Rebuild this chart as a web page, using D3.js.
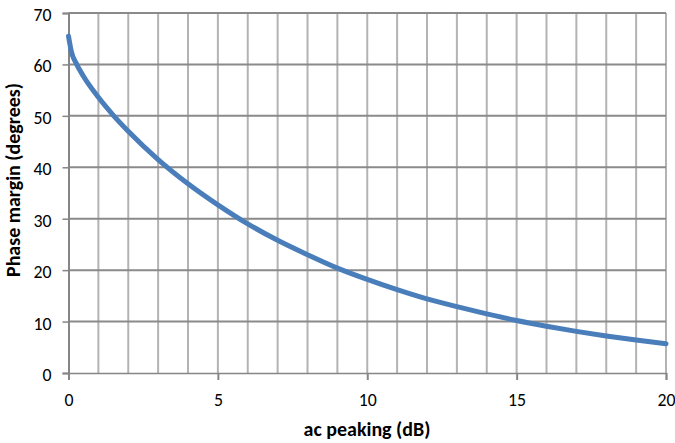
<!DOCTYPE html>
<html><head><meta charset="utf-8">
<script src="https://cdn.jsdelivr.net/npm/d3@7"></script>
<style>
html,body{margin:0;padding:0;background:#fff;}
svg{display:block;font-family:Carlito,Lato,"Liberation Sans",sans-serif;}
</style></head>
<body>
<svg id="chart" width="675" height="443"></svg>
<script>
// ac peaking (dB)
const peakingDb = [0, 0.1, 0.25, 0.5, 1, 1.5, 2, 3, 4, 5, 6, 7, 8, 9, 10, 11, 12, 13, 14, 15, 16, 17, 18, 19, 20];
// phase margin (degrees)
const phaseMargin = [65.5, 62.4, 60.3, 57.7, 53.6, 50.1, 47.0, 41.5, 36.8, 32.7, 29.0, 25.8, 23.0, 20.4, 18.2, 16.2, 14.4, 12.9, 11.5, 10.2, 9.1, 8.1, 7.2, 6.4, 5.7];
const xTicks = [0, 5, 10, 15, 20];
const yTicks = [0, 10, 20, 30, 40, 50, 60, 70];
const xGrid = d3.range(1, 21);
const xTitle = "ac peaking (dB)";
const yTitle = "Phase margin (degrees)";

const svg = d3.select("#chart");
const pL = 68.5, pR = 666, pT = 13, pB = 373;
const x = d3.scaleLinear().domain([0, 20]).range([pL, pR]);
const y = d3.scaleLinear().domain([0, 70]).range([pB, pT]);

// fit a font size so a sample string reaches a target width
function fitSize(str, weight, target) {
  const t = svg.append("text").attr("font-size", 20).attr("font-weight", weight).text(str);
  const w = t.node().getComputedTextLength();
  t.remove();
  return 20 * target / w;
}
const tickSize = 17.8;
const xTitleSize = fitSize(xTitle, "bold", 127);
const yTitleSize = xTitleSize;

// vertical gridlines
svg.append("g").selectAll("line").data(xGrid).join("line")
  .attr("x1", d => x(d)).attr("x2", d => x(d))
  .attr("y1", pT).attr("y2", pB)
  .attr("stroke", "#b3b3b3").attr("stroke-width", 2);

// horizontal gridlines
svg.append("g").selectAll("line").data(yTicks.filter(d => d > 0)).join("line")
  .attr("x1", pL).attr("x2", pR)
  .attr("y1", d => y(d)).attr("y2", d => y(d))
  .attr("stroke", "#8a8a8a").attr("stroke-width", 2);

// y axis
const yAxis = svg.append("g").attr("transform", `translate(${pL},0)`)
  .call(d3.axisLeft(y).tickValues(yTicks).tickSize(6).tickPadding(11));
yAxis.select(".domain").attr("stroke", "#868686").attr("stroke-width", 2);
yAxis.selectAll(".tick line").attr("stroke", "#868686").attr("stroke-width", 1.5);
yAxis.selectAll(".tick text").attr("font-size", tickSize).attr("fill", "#000")
  .attr("dy", "0.42em").attr("font-family", "Carlito,Lato,sans-serif");

// x axis
const xAxis = svg.append("g").attr("transform", `translate(0,${pB})`)
  .call(d3.axisBottom(x).tickValues(xTicks).tickSize(7).tickPadding(13));
xAxis.select(".domain").attr("stroke", "#868686").attr("stroke-width", 1.5);
xAxis.selectAll(".tick line").attr("stroke", "#868686").attr("stroke-width", 2);
xAxis.selectAll(".tick text").attr("font-size", tickSize).attr("fill", "#000")
  .attr("font-family", "Carlito,Lato,sans-serif");

// curve
const pts = peakingDb.map((d, i) => [d, phaseMargin[i]]);
svg.append("path").datum(pts)
  .attr("d", d3.line().x(d => x(d[0])).y(d => y(d[1])).curve(d3.curveMonotoneX))
  .attr("fill", "none").attr("stroke", "#4a7ebb").attr("stroke-width", 5)
  .attr("stroke-linecap", "round").attr("stroke-linejoin", "round");

// titles
svg.append("text").attr("x", 367).attr("y", 435.5).attr("text-anchor", "middle")
  .attr("font-size", xTitleSize).attr("font-weight", "bold").text(xTitle);
svg.append("text").attr("transform", "translate(20,180) rotate(-90)")
  .attr("text-anchor", "middle").attr("font-size", yTitleSize).attr("font-weight", "bold").text(yTitle);
</script>
</body></html>
